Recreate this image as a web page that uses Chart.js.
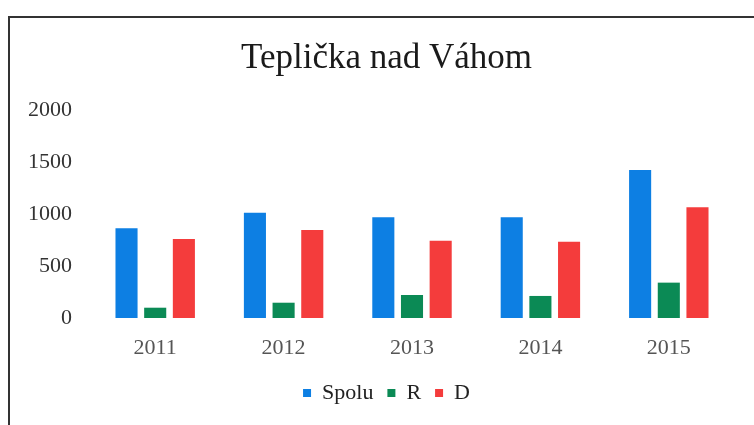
<!DOCTYPE html>
<html>
<head>
<meta charset="utf-8">
<script src="https://cdn.jsdelivr.net/npm/chart.js@4"></script>
<style>
  html, body { margin: 0; padding: 0; background: #fff; }
  /* scanned page frame: left and top edges only */
  #frame {
    position: absolute; left: 8px; top: 16px;
    width: 746px; height: 409px; box-sizing: border-box;
    border-left: 2px solid #333; border-top: 2px solid #333;
  }
  #myChart { position: absolute; left: 0; top: 0; }
</style>
</head>
<body>
<div id="frame"></div>
<canvas id="myChart" width="754" height="425"></canvas>
<script>
const years = ['2011', '2012', '2013', '2014', '2015'];
const spolu = [862, 1012, 968, 968, 1423];
const rValues = [99, 147, 221, 212, 340];
const dValues = [760, 846, 743, 734, 1064];

const serif = "'Liberation Serif', 'Times New Roman', serif";

// title and legend sit a bit right of the canvas centre in the scan
const nudge = {
  id: 'nudge',
  afterLayout(chart) {
    [chart.titleBlock, chart.legend].forEach(b => {
      if (b) { b.left += 10; b.right += 10; }
    });
  }
};

const ctx = document.getElementById('myChart');

new Chart(ctx, {
  type: 'bar',
  data: {
    labels: years,
    datasets: [
      { label: 'Spolu', data: spolu, backgroundColor: '#0d7fe3' },
      { label: 'R', data: rValues, backgroundColor: '#0b8a55' },
      { label: 'D', data: dValues, backgroundColor: '#f43c3c' }
    ]
  },
  options: {
    responsive: false,
    animation: false,
    categoryPercentage: 0.67,
    barPercentage: 0.77,
    layout: {
      padding: { left: 20, right: 21, top: 20, bottom: 11 }
    },
    plugins: {
      title: {
        display: true,
        text: 'Teplička nad Váhom',
        color: '#1a1a1a',
        font: { family: serif, size: 35, weight: 'normal' },
        padding: { top: 18, bottom: 30 }
      },
      legend: {
        position: 'bottom',
        labels: {
          boxWidth: 8,
          boxHeight: 8,
          padding: 14,
          color: '#222',
          font: { family: serif, size: 22 }
        }
      },
      tooltip: { enabled: false }
    },
    scales: {
      x: {
        afterFit(scale) { scale.height = 50; },
        grid: { display: false, drawTicks: false },
        border: { display: false },
        ticks: {
          padding: 17,
          color: '#555',
          font: { family: serif, size: 22 }
        }
      },
      y: {
        min: 0,
        max: 2000,
        afterFit(scale) { scale.width = 71; },
        grid: { display: false, drawTicks: false },
        border: { display: false },
        ticks: {
          stepSize: 500,
          padding: 19,
          color: '#333',
          font: { family: serif, size: 22 },
          callback: (v) => String(v)
        }
      }
    }
  },
  plugins: [nudge]
});
</script>
</body>
</html>
